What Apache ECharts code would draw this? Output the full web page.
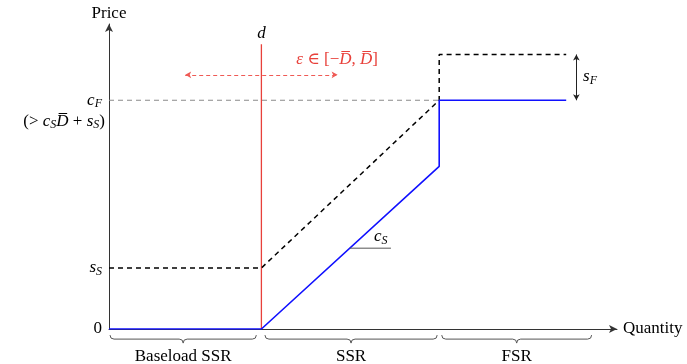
<!DOCTYPE html>
<html><head><meta charset="utf-8">
<script src="https://cdn.jsdelivr.net/npm/echarts@6/dist/echarts.min.js"></script>
<style>html,body{margin:0;padding:0;background:#fff}#c{width:687px;height:364px}</style>
</head><body><div id="c"></div>
<script>
// ---- data (quantity / price units) ----
const costCurve = [[0,0],[3,0],[6.5,3.2],[6.5,4.5],[9,4.5]];        // blue
const offerCurve = [[0,1.2],[3,1.2],[6.5,4.5],[6.5,5.4],[9,5.4]];   // black dashed
const cfLevel = [[0,4.5],[6.5,4.5]];                                  // gray dashed
const demandLine = [[3,0],[3,5.6]];                                   // red d
const epsArrow = [[1.5,5.0],[4.5,5.0]];
const sfArrow = [[9.2,4.5],[9.2,5.4]];
const slopeMark = [[4.74,1.59],[5.55,1.59]];
const yTickValues = [0, 1.2, 4.5];
const yTickLabels = ['{n|0}', '{i|s}{sub|S}', '{i|c}{sub|F}'];
const regionNames = ['Baseload SSR', 'SSR', 'FSR'];
const regionStart = [0.02, 3.07, 6.55];
const regionEnd = [2.9, 6.46, 9.5];
const braceTop = -0.12;
const regionLabelY = -0.55;
const noteTexts = ['{i|d}', '{i|ε} ∈ [−{i|D\u0305}, {i|D\u0305}]', '{i|c}{sub|S}', '{i|s}{sub|F}', '{n|(> }{i|c}{sub|S}{i|D\u0305}{n| + }{i|s}{sub|S}{n|)}'];
const noteX = [3, 4.49, 5.35, 9.47, -0.08];
const noteY = [5.81, 5.3, 1.81, 4.96, 4.09];

const SERIF = '"Liberation Serif", "DejaVu Serif", serif';
const FS = 17;
const richBase = {
  n: {fontFamily: SERIF, fontSize: FS, color: '#000', lineHeight: 19},
  i: {fontFamily: SERIF, fontSize: FS, fontStyle: 'italic', color: '#000', lineHeight: 19},
  sub: {fontFamily: SERIF, fontSize: 12, fontStyle: 'italic', color: '#000', lineHeight: 12, verticalAlign: 'bottom'}
};
function richColored(c){
  const r = {};
  for (const k in richBase) r[k] = Object.assign({}, richBase[k], {color: c});
  return r;
}
const noteColors = ['#000', '#e8413b', '#000', '#000', '#000'];
const noteAlign = ['center', 'center', 'center', 'center', 'right'];

const chart = echarts.init(document.getElementById('c'), null, {renderer: 'canvas'});
const axisColor = '#333';
chart.setOption({
  animation: false,
  grid: {left: 109, right: 70, top: 24, bottom: 35},
  xAxis: {
    type: 'value', min: 0, max: 10,
    axisLine: {show: true, onZero: false, symbol: ['none', 'arrow'], symbolSize: [6, 8], lineStyle: {color: axisColor, width: 1}},
    axisTick: {show: false}, axisLabel: {show: false}, splitLine: {show: false},
    name: 'Quantity', nameLocation: 'end', nameGap: 6,
    nameTextStyle: {fontFamily: SERIF, fontSize: FS, color: '#000', align: 'left', verticalAlign: 'middle'}
  },
  yAxis: {
    type: 'value', min: 0, max: 6,
    axisLine: {show: true, onZero: false, symbol: ['none', 'arrow'], symbolSize: [6, 8], lineStyle: {color: axisColor, width: 1}},
    axisTick: {show: false}, splitLine: {show: false},
    axisLabel: {
      show: true, customValues: yTickValues, margin: 7,
      formatter: function(v){ const k = yTickValues.indexOf(v); return k >= 0 ? yTickLabels[k] : ''; },
      rich: richBase
    },
    name: 'Price', nameLocation: 'end', nameGap: 10,
    nameTextStyle: {fontFamily: SERIF, fontSize: FS, color: '#000', align: 'center', verticalAlign: 'middle'}
  },
  series: [
    {type: 'line', data: cfLevel, symbol: 'none', silent: true,
     lineStyle: {color: '#8a8a8a', width: 1.2, type: [5, 4]}},
    {type: 'line', data: demandLine, symbol: 'none', silent: true,
     lineStyle: {color: '#e8413b', width: 1.3}},
    {type: 'line', data: offerCurve, symbol: 'none', silent: true,
     lineStyle: {color: '#000', width: 1.5, type: [5, 4]}},
    {type: 'line', data: costCurve, symbol: 'none', silent: true,
     lineStyle: {color: '#1010ff', width: 1.6}},
    {type: 'line', data: slopeMark, symbol: 'none', silent: true,
     lineStyle: {color: '#555', width: 1}},
    {type: 'line', data: [], silent: true,
     markLine: {silent: true, symbol: ['arrow', 'arrow'], symbolSize: [5, 6], label: {show: false},
       lineStyle: {color: '#ef5a55', width: 1, type: [4, 3]},
       data: [[{coord: epsArrow[0]}, {coord: epsArrow[1]}]]}},
    {type: 'line', data: [], silent: true,
     markLine: {silent: true, symbol: ['arrow', 'arrow'], symbolSize: [5, 6], label: {show: false},
       lineStyle: {color: '#222', width: 1, type: 'solid'},
       data: [[{coord: sfArrow[0]}, {coord: sfArrow[1]}]]}},
    {type: 'custom', silent: true, clip: false,
     data: regionStart.map((s, i) => [s, regionEnd[i], braceTop, regionLabelY]),
     renderItem: function(params, api){
       const i = params.dataIndex;
       const p0 = api.coord([api.value(0), api.value(2)]);
       const p1 = api.coord([api.value(1), api.value(2)]);
       const pl = api.coord([(api.value(0) + api.value(1)) / 2, api.value(3)]);
       const a = 8, r = a / 2, y = p0[1], x0 = p0[0], x1 = p1[0], m = (x0 + x1) / 2;
       const d = `M${x0} ${y} Q${x0} ${y + r} ${x0 + r} ${y + r} L${m - r} ${y + r} Q${m} ${y + r} ${m} ${y + a} Q${m} ${y + r} ${m + r} ${y + r} L${x1 - r} ${y + r} Q${x1} ${y + r} ${x1} ${y}`;
       return {type: 'group', children: [
         {type: 'path', shape: {pathData: d}, style: {stroke: '#555', lineWidth: 1, fill: null}},
         {type: 'text', x: pl[0], y: pl[1], style: {text: regionNames[i], fontFamily: SERIF, fontSize: FS, fill: '#000', align: 'center', verticalAlign: 'middle'}}
       ]};
     }},
    {type: 'custom', silent: true, clip: false,
     data: noteX.map((x, i) => [x, noteY[i]]),
     renderItem: function(params, api){
       const i = params.dataIndex;
       const p = api.coord([api.value(0), api.value(1)]);
       return {type: 'text', x: p[0], y: p[1], style: {text: noteTexts[i], rich: richColored(noteColors[i]),
         fontFamily: SERIF, fontSize: FS, fill: noteColors[i], align: noteAlign[i], verticalAlign: 'middle'}};
     }}
  ]
});
</script></body></html>
